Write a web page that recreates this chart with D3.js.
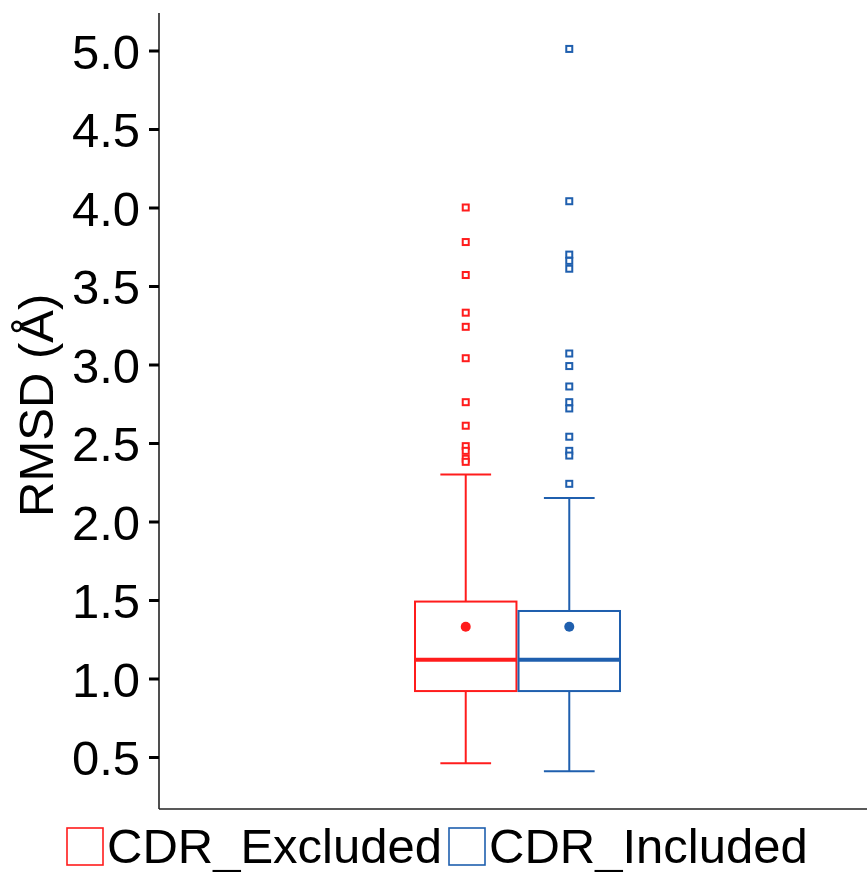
<!DOCTYPE html>
<html>
<head>
<meta charset="utf-8">
<script src="https://cdn.jsdelivr.net/npm/d3@7"></script>
<style>
  html, body { margin: 0; padding: 0; background: #fff; }
  svg { display: block; }
  text { font-family: "Liberation Sans", Arial, sans-serif; fill: #000; }
</style>
</head>
<body>
<svg id="chart" width="867" height="872"></svg>
<script>
// ---- data ----
const series = ["CDR_Excluded", "CDR_Included"];
const colors = ["#ff1c1c", "#1f5fae"];
const whiskerLow  = [0.46, 0.41];
const q1          = [0.92, 0.92];
const median      = [1.12, 1.12];
const q3          = [1.49, 1.43];
const whiskerHigh = [2.30, 2.15];
const means       = [1.33, 1.33];
const outliersExcluded = [4.00, 3.78, 3.57, 3.33, 3.24, 3.04, 2.76, 2.61, 2.48, 2.45, 2.40, 2.38];
const outliersIncluded = [5.01, 4.04, 3.70, 3.66, 3.61, 3.07, 2.99, 2.86, 2.76, 2.72, 2.54, 2.45, 2.42, 2.24];
const outliers = [outliersExcluded, outliersIncluded];
const yTicks = [0.5, 1.0, 1.5, 2.0, 2.5, 3.0, 3.5, 4.0, 4.5, 5.0];
const yLabel = "RMSD (Å)";

// ---- layout ----
const svg = d3.select("#chart");
const plotLeft = 159, plotRight = 880, plotTop = 13, plotBottom = 809;

const y = d3.scaleLinear().domain([0.5, 5.0]).range([757, 50.5]);
const yMin = y.invert(plotBottom), yMax = y.invert(plotTop);

const xGroup = d3.scaleBand().domain(["all"]).range([plotLeft, plotRight]).paddingOuter(0.36).paddingInner(0);
const center = xGroup("all") + xGroup.bandwidth() / 2 - 2;
const xs = d3.scaleBand().domain(series).range([center - 102.5, center + 102.5]).paddingInner(0.02);

// axes lines
svg.append("line").attr("x1", plotLeft).attr("x2", plotLeft)
  .attr("y1", y(yMax)).attr("y2", y(yMin))
  .attr("stroke", "#222").attr("stroke-width", 1.6);
svg.append("line").attr("x1", plotLeft).attr("x2", plotRight)
  .attr("y1", y(yMin)).attr("y2", y(yMin))
  .attr("stroke", "#222").attr("stroke-width", 1.6);

// y axis ticks + labels
const yAxis = d3.axisLeft(y).tickValues(yTicks).tickFormat(d3.format(".1f")).tickSize(10).tickPadding(9);
const gy = svg.append("g").attr("transform", `translate(${plotLeft},0)`).call(yAxis);
gy.select(".domain").remove();
gy.selectAll(".tick line").attr("stroke", "#000").attr("stroke-width", 3);
gy.selectAll(".tick text")
  .style("font-family", '"Liberation Sans", Arial, sans-serif')
  .style("font-size", "49px").attr("fill", "#000").attr("dy", "0.36em");

// y label
svg.append("text")
  .attr("transform", `translate(53, ${y(2.74)}) rotate(-90)`)
  .attr("text-anchor", "middle")
  .style("font-size", "49px")
  .text(yLabel);

// boxes
series.forEach((s, i) => {
  const g = svg.append("g");
  const x0 = xs(s), w = xs.bandwidth(), cx = x0 + w / 2;
  const col = colors[i];
  const capHalf = w / 4;
  // whiskers
  g.append("line").attr("x1", cx).attr("x2", cx).attr("y1", y(q3[i])).attr("y2", y(whiskerHigh[i]))
    .attr("stroke", col).attr("stroke-width", 2);
  g.append("line").attr("x1", cx).attr("x2", cx).attr("y1", y(q1[i])).attr("y2", y(whiskerLow[i]))
    .attr("stroke", col).attr("stroke-width", 2);
  g.append("line").attr("x1", cx - capHalf).attr("x2", cx + capHalf).attr("y1", y(whiskerHigh[i])).attr("y2", y(whiskerHigh[i]))
    .attr("stroke", col).attr("stroke-width", 2);
  g.append("line").attr("x1", cx - capHalf).attr("x2", cx + capHalf).attr("y1", y(whiskerLow[i])).attr("y2", y(whiskerLow[i]))
    .attr("stroke", col).attr("stroke-width", 2);
  // box
  g.append("rect").attr("x", x0).attr("y", y(q3[i])).attr("width", w).attr("height", y(q1[i]) - y(q3[i]))
    .attr("fill", "#fff").attr("stroke", col).attr("stroke-width", 2);
  // median
  g.append("line").attr("x1", x0).attr("x2", x0 + w).attr("y1", y(median[i])).attr("y2", y(median[i]))
    .attr("stroke", col).attr("stroke-width", 4);
  // mean
  g.append("circle").attr("cx", cx).attr("cy", y(means[i])).attr("r", 5).attr("fill", col);
  // outliers
  g.selectAll("rect.out").data(outliers[i]).join("rect").attr("class", "out")
    .attr("x", cx - 3).attr("y", d => y(d) - 3).attr("width", 6).attr("height", 6)
    .attr("fill", "#fff").attr("stroke", col).attr("stroke-width", 2);
});

// legend
const legend = svg.append("g");
let lx = 67;
series.forEach((s, i) => {
  legend.append("rect").attr("x", lx).attr("y", 828).attr("width", 36).attr("height", 37)
    .attr("fill", "#fff").attr("stroke", colors[i]).attr("stroke-width", 1.6);
  const t = legend.append("text").attr("x", lx + 40).attr("y", 863)
    .style("font-size", "49px").text(s);
  lx = lx + 40 + t.node().getComputedTextLength() + 7;
});
</script>
</body>
</html>
